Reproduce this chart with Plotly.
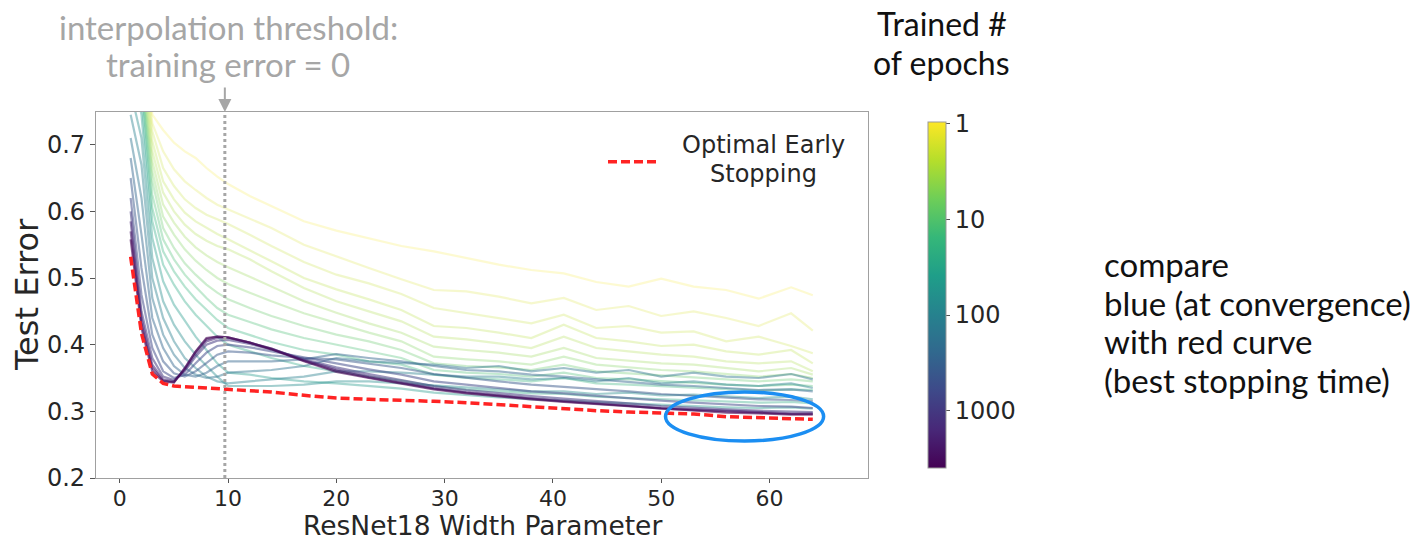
import numpy as np
import plotly.graph_objects as go
from plotly.colors import sample_colorscale

# ---------------- data ----------------
widths = [1, 2, 3, 4, 5, 6, 7, 8, 9, 10, 12, 14, 17, 20, 23, 26, 29, 32, 35, 38,
          41, 44, 47, 50, 53, 56, 59, 62, 64]

# trained number of epochs for each drawn curve
epochs = [1, 1.5, 2, 2.5, 3, 4, 5.5, 8, 12, 18, 28, 45, 70, 110, 170, 260,
          400, 650, 1000, 1600, 2500, 4000]

# test error of every epoch-curve (same order as `epochs`) at each width
err_w01 = [0.99, 0.98, 0.97, 0.96, 0.95, 0.94, 0.93, 0.92, 0.91, 0.89, 0.86, 0.82, 0.78, 0.745, 0.71, 0.68, 0.65, 0.62, 0.60, 0.585, 0.57, 0.558]
err_w02 = [0.90, 0.88, 0.86, 0.85, 0.84, 0.83, 0.82, 0.81, 0.80, 0.79, 0.77, 0.745, 0.71, 0.67, 0.62, 0.565, 0.515, 0.475, 0.45, 0.44, 0.432, 0.425]
err_w03 = [0.745, 0.732, 0.72, 0.705, 0.69, 0.675, 0.66, 0.645, 0.625, 0.605, 0.585, 0.56, 0.53, 0.50, 0.47, 0.44, 0.415, 0.395, 0.38, 0.37, 0.365, 0.36]
err_w04 = [0.722, 0.69, 0.665, 0.645, 0.628, 0.61, 0.592, 0.575, 0.558, 0.54, 0.52, 0.495, 0.465, 0.44, 0.415, 0.395, 0.375, 0.36, 0.352, 0.348, 0.346, 0.345]
err_w05 = [0.703, 0.663, 0.638, 0.618, 0.60, 0.583, 0.565, 0.545, 0.528, 0.51, 0.49, 0.46, 0.43, 0.405, 0.385, 0.368, 0.357, 0.35, 0.347, 0.345, 0.344, 0.343]
err_w06 = [0.690, 0.645, 0.618, 0.598, 0.58, 0.562, 0.543, 0.522, 0.505, 0.487, 0.465, 0.435, 0.405, 0.38, 0.365, 0.355, 0.352, 0.355, 0.36, 0.362, 0.364, 0.365]
err_w07 = [0.68, 0.632, 0.605, 0.585, 0.566, 0.546, 0.526, 0.505, 0.487, 0.468, 0.445, 0.412, 0.385, 0.365, 0.355, 0.352, 0.36, 0.372, 0.382, 0.386, 0.389, 0.39]
err_w08 = [0.665, 0.62, 0.595, 0.575, 0.556, 0.534, 0.512, 0.49, 0.47, 0.452, 0.428, 0.392, 0.368, 0.352, 0.35, 0.358, 0.372, 0.388, 0.40, 0.405, 0.408, 0.41]
err_w09 = [0.652, 0.61, 0.588, 0.566, 0.548, 0.524, 0.50, 0.478, 0.455, 0.437, 0.412, 0.372, 0.352, 0.345, 0.352, 0.368, 0.385, 0.398, 0.406, 0.41, 0.412, 0.412]
err_w10 = [0.641, 0.603, 0.581, 0.558, 0.543, 0.516, 0.491, 0.468, 0.445, 0.425, 0.40, 0.358, 0.338, 0.342, 0.358, 0.375, 0.39, 0.40, 0.407, 0.41, 0.411, 0.411]
err_w12 = [0.623, 0.59, 0.565, 0.542, 0.528, 0.502, 0.478, 0.455, 0.434, 0.414, 0.39, 0.355, 0.338, 0.345, 0.36, 0.375, 0.388, 0.396, 0.401, 0.403, 0.403, 0.403]
err_w14 = [0.608, 0.575, 0.548, 0.525, 0.51, 0.487, 0.465, 0.443, 0.423, 0.404, 0.38, 0.35, 0.338, 0.348, 0.362, 0.375, 0.384, 0.39, 0.393, 0.394, 0.394, 0.393]
err_w17 = [0.585, 0.55, 0.524, 0.50, 0.485, 0.465, 0.447, 0.428, 0.41, 0.392, 0.368, 0.345, 0.34, 0.352, 0.368, 0.378, 0.38, 0.38, 0.378, 0.377, 0.376, 0.375]
err_w20 = [0.571, 0.532, 0.505, 0.483, 0.465, 0.448, 0.432, 0.415, 0.40, 0.385, 0.36, 0.342, 0.345, 0.36, 0.38, 0.386, 0.378, 0.372, 0.366, 0.363, 0.361, 0.359]
err_w23 = [0.56, 0.515, 0.492, 0.468, 0.45, 0.432, 0.418, 0.405, 0.39, 0.375, 0.352, 0.338, 0.345, 0.36, 0.375, 0.38, 0.372, 0.363, 0.356, 0.353, 0.351, 0.35]
err_w26 = [0.548, 0.498, 0.476, 0.452, 0.435, 0.418, 0.405, 0.392, 0.38, 0.37, 0.346, 0.334, 0.342, 0.358, 0.372, 0.375, 0.365, 0.355, 0.347, 0.344, 0.342, 0.341]
err_w29 = [0.54, 0.482, 0.455, 0.428, 0.412, 0.397, 0.382, 0.372, 0.362, 0.355, 0.338, 0.328, 0.338, 0.355, 0.37, 0.368, 0.356, 0.345, 0.338, 0.335, 0.334, 0.333]
err_w32 = [0.53, 0.48, 0.447, 0.425, 0.408, 0.392, 0.378, 0.368, 0.358, 0.35, 0.333, 0.324, 0.335, 0.352, 0.365, 0.362, 0.35, 0.34, 0.332, 0.329, 0.328, 0.327]
err_w35 = [0.52, 0.472, 0.44, 0.418, 0.402, 0.388, 0.375, 0.366, 0.356, 0.348, 0.33, 0.321, 0.333, 0.352, 0.368, 0.36, 0.345, 0.335, 0.327, 0.324, 0.323, 0.322]
err_w38 = [0.512, 0.462, 0.432, 0.41, 0.395, 0.382, 0.37, 0.362, 0.352, 0.345, 0.327, 0.318, 0.33, 0.348, 0.36, 0.355, 0.34, 0.33, 0.323, 0.32, 0.319, 0.318]
err_w41 = [0.507, 0.47, 0.445, 0.43, 0.412, 0.395, 0.382, 0.37, 0.358, 0.35, 0.326, 0.316, 0.33, 0.35, 0.365, 0.352, 0.337, 0.327, 0.319, 0.316, 0.315, 0.314]
err_w44 = [0.494, 0.452, 0.425, 0.41, 0.395, 0.38, 0.37, 0.36, 0.35, 0.342, 0.322, 0.313, 0.326, 0.345, 0.358, 0.348, 0.333, 0.323, 0.316, 0.313, 0.312, 0.311]
err_w47 = [0.487, 0.458, 0.428, 0.405, 0.39, 0.376, 0.366, 0.357, 0.348, 0.34, 0.32, 0.311, 0.328, 0.35, 0.362, 0.345, 0.33, 0.32, 0.312, 0.309, 0.308, 0.307]
err_w50 = [0.499, 0.443, 0.418, 0.398, 0.385, 0.372, 0.362, 0.354, 0.345, 0.338, 0.318, 0.309, 0.324, 0.342, 0.352, 0.34, 0.326, 0.316, 0.308, 0.305, 0.304, 0.304]
err_w53 = [0.487, 0.45, 0.42, 0.40, 0.382, 0.37, 0.36, 0.352, 0.343, 0.336, 0.317, 0.308, 0.325, 0.345, 0.358, 0.338, 0.323, 0.313, 0.305, 0.303, 0.302, 0.301]
err_w56 = [0.482, 0.44, 0.405, 0.39, 0.375, 0.365, 0.356, 0.348, 0.34, 0.333, 0.315, 0.306, 0.322, 0.34, 0.352, 0.335, 0.32, 0.31, 0.303, 0.30, 0.299, 0.298]
err_w59 = [0.469, 0.428, 0.412, 0.385, 0.372, 0.36, 0.352, 0.345, 0.338, 0.331, 0.313, 0.305, 0.32, 0.338, 0.35, 0.332, 0.318, 0.308, 0.301, 0.299, 0.298, 0.297]
err_w62 = [0.486, 0.447, 0.398, 0.392, 0.375, 0.365, 0.356, 0.348, 0.34, 0.333, 0.314, 0.306, 0.322, 0.342, 0.356, 0.333, 0.317, 0.307, 0.30, 0.297, 0.296, 0.295]
err_w64 = [0.474, 0.421, 0.387, 0.372, 0.36, 0.355, 0.35, 0.345, 0.338, 0.332, 0.312, 0.304, 0.318, 0.335, 0.348, 0.33, 0.315, 0.305, 0.299, 0.297, 0.296, 0.295]

# optimal early stopping (red dashed), one value per width
optimal_early_stopping = [0.532, 0.417, 0.356, 0.342, 0.338, 0.337, 0.337, 0.336, 0.334, 0.333,
                          0.332, 0.329, 0.324, 0.320, 0.318, 0.317, 0.315, 0.313, 0.310, 0.307,
                          0.303, 0.301, 0.299, 0.297, 0.296, 0.292, 0.290, 0.289, 0.288]

threshold_width = 9.7
x_ticks = [0, 10, 20, 30, 40, 50, 60]
y_ticks = [0.2, 0.3, 0.4, 0.5, 0.6, 0.7]
cbar_tick_epochs = [1, 10, 100, 1000]

# ---------------- build table ----------------
rows = [err_w01, err_w02, err_w03, err_w04, err_w05, err_w06, err_w07, err_w08, err_w09,
        err_w10, err_w12, err_w14, err_w17, err_w20, err_w23, err_w26, err_w29, err_w32,
        err_w35, err_w38, err_w41, err_w44, err_w47, err_w50, err_w53, err_w56, err_w59,
        err_w62, err_w64]
curves = [list(c) for c in zip(*rows)]

CMIN, CMAX = -3.6, 0.02
ANNFONT = "Lato"
INK = "#262626"

fig = go.Figure()

for e, vals in zip(epochs, curves):
    z = -np.log10(e)
    t = (z - CMIN) / (CMAX - CMIN)
    col = sample_colorscale("Viridis", [t])[0]
    op = 0.2 + 0.4 * (1 - t)
    fig.add_trace(go.Scatter(x=widths, y=vals, mode="lines",
                             line=dict(color=col, width=2.2), opacity=op,
                             showlegend=False, hoverinfo="skip"))

fig.add_trace(go.Scatter(x=widths, y=optimal_early_stopping, mode="lines",
                         line=dict(color="rgb(255,35,35)", width=3.5, dash="9px,4px"),
                         name="Optimal Early Stopping", showlegend=False))

# colorbar carrier
fig.add_trace(go.Scatter(
    x=[None], y=[None], mode="markers", showlegend=False, hoverinfo="skip",
    marker=dict(color=[-1.0], colorscale="Viridis", cmin=CMIN, cmax=CMAX, showscale=True,
                colorbar=dict(
                    x=(918 - 96) / 772, xanchor="left", xref="paper",
                    y=0.5, yanchor="middle", len=1.0, lenmode="fraction",
                    thickness=18, outlinewidth=1, outlinecolor="#999999",
                    tickvals=[-np.log10(v) for v in cbar_tick_epochs],
                    ticktext=[str(v) for v in cbar_tick_epochs],
                    ticks="outside", ticklen=4, tickcolor="#555555",
                    tickfont=dict(family="DejaVu Sans", size=24, color=INK)))))

fig.update_layout(
    width=1426, height=541,
    margin=dict(l=96, r=1426 - 868, t=112, b=541 - 478),
    paper_bgcolor="white", plot_bgcolor="white",
    xaxis=dict(range=[-2.2, 69.1], tickvals=x_ticks, showgrid=False, zeroline=False,
               showline=True, mirror=True, linecolor="#a0a0a0", linewidth=1.3,
               ticks="outside", ticklen=4, tickcolor="#555555", ticklabelstandoff=-4,
               tickfont=dict(family="DejaVu Sans", size=22, color=INK)),
    yaxis=dict(range=[0.2, 0.749], tickvals=y_ticks, tickformat=".1f", showgrid=False,
               zeroline=False, showline=True, mirror=True, linecolor="#a0a0a0",
               linewidth=1.3, ticks="outside", ticklen=5, tickcolor="#555555",
               tickfont=dict(family="DejaVu Sans", size=24, color=INK)),
)

# interpolation threshold dotted line + arrow
fig.add_shape(type="line", xref="x", yref="paper", x0=threshold_width, x1=threshold_width,
              y0=0, y1=1, line=dict(color="#a6a6a6", width=3, dash="dot"))
fig.add_annotation(x=threshold_width, y=1, xref="x", yref="paper", text="", showarrow=True,
                   ax=0, ay=-26, arrowhead=2, arrowsize=1.3, arrowwidth=2, arrowcolor="#a6a6a6")


def px_x(px):
    return (px - 96) / 772


def px_y(py):
    return (478 - py) / 366


def note(text, px, py, size, color, family=ANNFONT, xanchor="center", angle=0):
    fig.add_annotation(x=px_x(px), y=px_y(py), xref="paper", yref="paper", text=text,
                       xanchor=xanchor, yanchor="middle", showarrow=False, textangle=angle,
                       borderpad=0, font=dict(family=family, size=size, color=color))


gray = "#a6a6a6"
note("interpolation threshold:", 228, 27, 33, gray)
note("training error = 0", 228, 64, 33, gray)

# colorbar title
note("Trained #", 942, 24, 32, "#111111")
note("of epochs", 942, 63, 32, "#111111")

# right-hand note
for txt, py in [("compare", 264), ("blue (at convergence)", 303),
                ("with red curve", 341), ("(best stopping time)", 380)]:
    note(txt, 1103, py, 33, "#111111", xanchor="left")

# legend (manual)
fig.add_shape(type="line", xref="paper", yref="paper", x0=px_x(608), x1=px_x(656),
              y0=px_y(161.7), y1=px_y(161.7),
              line=dict(color="rgb(255,35,35)", width=3.5, dash="9px,4px"))
note("Optimal Early", 763, 145, 24, INK, family="DejaVu Sans")
note("Stopping", 763, 174, 24, INK, family="DejaVu Sans")

# axis titles
note("ResNet18 Width Parameter", 482, 525, 26.5, INK, family="DejaVu Sans")
note("Test Error", 27, 295, 32, INK, family="DejaVu Sans", angle=-90)

# blue highlight ellipse
fig.add_shape(type="circle", xref="x", yref="y", x0=50.4, x1=65.0, y0=0.2555, y1=0.329,
              line=dict(color="#1b8ef2", width=3.5))

fig.write_html("out.html")
